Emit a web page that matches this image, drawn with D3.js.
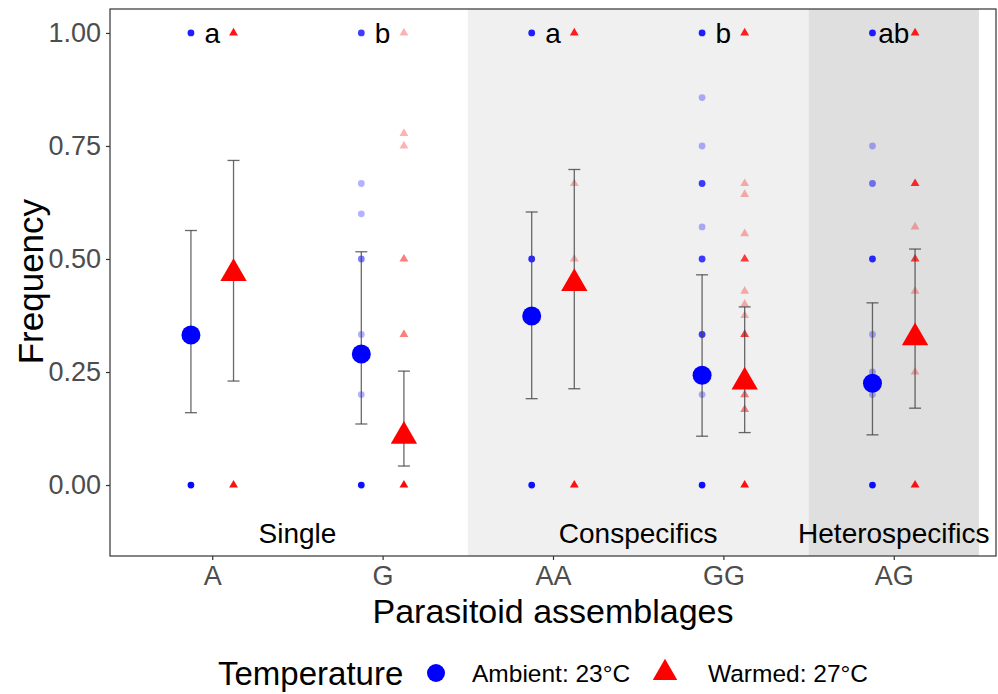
<!doctype html>
<html>
<head>
<style>
  body { margin: 0; background: #fff; }
  text { font-family: "Liberation Sans", Arial, sans-serif; }
</style>
<script src="https://d3js.org/d3.v7.min.js"></script>
</head>
<body>
<svg width="998" height="694"></svg>
<script>
// categories and group labels
var groups = ["A", "G", "AA", "GG", "AG"];
var letters = ["a", "b", "a", "b", "ab"];
var blocks = [["Single", 0.4, 2.5, 1.5, "#ffffff"],
              ["Conspecifics", 2.5, 4.5, 3.5, "#f0f0f0"],
              ["Heterospecifics", 4.5, 5.5, 5, "#dfdfdf"]];
var yTicks = [0, 0.25, 0.5, 0.75, 1];

// model estimates (mean + 95% CI)
var meanAmb = [0.332, 0.290, 0.374, 0.243, 0.225];
var loAmb   = [0.160, 0.135, 0.191, 0.108, 0.111];
var hiAmb   = [0.563, 0.516, 0.604, 0.465, 0.403];
var meanWar = [0.468, 0.108, 0.446, 0.228, 0.326];
var loWar   = [0.230, 0.042, 0.213, 0.116, 0.170];
var hiWar   = [0.718, 0.252, 0.698, 0.394, 0.522];

// raw observations: [group, value, number of replicates]
var obsAmb = [
  ["A", 1, 6], ["A", 0, 10],
  ["G", 1, 4], ["G", 0.667, 1], ["G", 0.6, 1], ["G", 0.5, 2], ["G", 0.333, 1], ["G", 0.2, 1], ["G", 0, 8],
  ["AA", 1, 6], ["AA", 0.5, 5], ["AA", 0, 8],
  ["GG", 1, 6], ["GG", 0.857, 1], ["GG", 0.75, 1], ["GG", 0.667, 4], ["GG", 0.571, 1], ["GG", 0.5, 4],
  ["GG", 0.333, 4], ["GG", 0.2, 1], ["GG", 0, 8],
  ["AG", 1, 6], ["AG", 0.75, 1], ["AG", 0.667, 2], ["AG", 0.5, 5], ["AG", 0.333, 1], ["AG", 0.25, 1],
  ["AG", 0.2, 1], ["AG", 0, 8]
];
var obsWar = [
  ["A", 1, 7], ["A", 0, 8],
  ["G", 1, 1], ["G", 0.778, 1], ["G", 0.75, 1], ["G", 0.5, 2], ["G", 0.333, 2], ["G", 0, 10],
  ["AA", 1, 6], ["AA", 0.667, 1], ["AA", 0.5, 1], ["AA", 0, 8],
  ["GG", 1, 6], ["GG", 0.667, 1], ["GG", 0.643, 1], ["GG", 0.556, 1], ["GG", 0.5, 4], ["GG", 0.429, 1],
  ["GG", 0.4, 1], ["GG", 0.375, 1], ["GG", 0.333, 4], ["GG", 0.2, 2], ["GG", 0.167, 2], ["GG", 0, 8],
  ["AG", 1, 6], ["AG", 0.667, 5], ["AG", 0.571, 1], ["AG", 0.5, 4], ["AG", 0.429, 1], ["AG", 0.25, 1], ["AG", 0, 8]
];

var svg = d3.select("svg");
var pL = 110, pR = 996, pT = 9, pB = 556;
var dodge = 0.125;

var x = d3.scaleLinear().domain([0.4, 5.6]).range([pL, pR]);
var y = d3.scaleLinear().domain([-0.157, 1.053]).range([pB, pT]);
var gx = function(g) { return groups.indexOf(g) + 1; };

// shaded blocks
svg.append("g").selectAll("rect")
  .data(blocks.filter(function(b) { return b[4] != "#ffffff"; }))
  .enter().append("rect")
  .attr("x", function(b) { return x(b[1]); })
  .attr("width", function(b) { return x(b[2]) - x(b[1]); })
  .attr("y", pT).attr("height", pB - pT)
  .attr("fill", function(b) { return b[4]; });

svg.append("g").selectAll("text")
  .data(blocks).enter().append("text")
  .attr("x", function(b) { return x(b[3]); })
  .attr("y", y(-0.106))
  .attr("dy", "0.35em")
  .attr("text-anchor", "middle")
  .attr("font-size", "28px")
  .text(function(b) { return b[0]; });

var tri = d3.symbol().type(d3.symbolTriangle);

// raw points
svg.append("g").selectAll("circle")
  .data(obsAmb).enter().append("circle")
  .attr("cx", function(d) { return x(gx(d[0]) - dodge); })
  .attr("cy", function(d) { return y(d[1]); })
  .attr("r", 3.4)
  .attr("fill", "blue")
  .attr("fill-opacity", function(d) { return 1 - Math.pow(0.7, d[2]); });

svg.append("g").selectAll("path")
  .data(obsWar).enter().append("path")
  .attr("d", tri.size(34))
  .attr("transform", function(d) { return "translate(" + x(gx(d[0]) + dodge) + "," + y(d[1]) + ")"; })
  .attr("fill", "red")
  .attr("fill-opacity", function(d) { return 1 - Math.pow(0.7, d[2]); });

// error bars
function errBars(lo, hi, off) {
  var g = svg.append("g").attr("stroke", "#444").attr("stroke-opacity", 0.8).attr("stroke-width", 1.3);
  groups.forEach(function(name, i) {
    var cx = x(i + 1 + off);
    g.append("line").attr("x1", cx).attr("x2", cx).attr("y1", y(lo[i])).attr("y2", y(hi[i]));
    g.append("line").attr("x1", cx - 6).attr("x2", cx + 6).attr("y1", y(lo[i])).attr("y2", y(lo[i]));
    g.append("line").attr("x1", cx - 6).attr("x2", cx + 6).attr("y1", y(hi[i])).attr("y2", y(hi[i]));
  });
}
errBars(loAmb, hiAmb, -dodge);
errBars(loWar, hiWar, dodge);

// means
svg.append("g").selectAll("circle")
  .data(meanAmb).enter().append("circle")
  .attr("cx", function(d, i) { return x(i + 1 - dodge); })
  .attr("cy", function(d) { return y(d); })
  .attr("r", 9.5)
  .attr("fill", "blue");

svg.append("g").selectAll("path")
  .data(meanWar).enter().append("path")
  .attr("d", d3.symbol().type(d3.symbolTriangle).size(300))
  .attr("transform", function(d, i) { return "translate(" + x(i + 1 + dodge) + "," + y(d) + ")"; })
  .attr("fill", "red");

// letters
svg.append("g").selectAll("text")
  .data(letters).enter().append("text")
  .attr("x", function(d, i) { return x(i + 1); })
  .attr("y", y(1))
  .attr("dy", "0.35em")
  .attr("text-anchor", "middle")
  .attr("font-size", "28px")
  .text(function(d) { return d; });

// panel border
svg.append("rect")
  .attr("x", pL).attr("y", pT)
  .attr("width", pR - pL).attr("height", pB - pT)
  .attr("fill", "none").attr("stroke", "#333").attr("stroke-width", 1.2);

// axes
var xAxis = svg.append("g")
  .attr("transform", "translate(0," + pB + ")")
  .call(d3.axisBottom(x).tickValues([1, 2, 3, 4, 5])
    .tickFormat(function(d) { return groups[d - 1]; }).tickSize(4).tickPadding(6));
var yAxis = svg.append("g")
  .attr("transform", "translate(" + pL + ",0)")
  .call(d3.axisLeft(y).tickValues(yTicks).tickFormat(d3.format(".2f")).tickSize(4).tickPadding(5));
[xAxis, yAxis].forEach(function(a) {
  a.select(".domain").remove();
  a.selectAll("line").attr("stroke", "#333").attr("stroke-width", 1.2);
  a.selectAll("text").attr("fill", "#4d4d4d").attr("font-size", "27px")
    .style("font-family", "'Liberation Sans', Arial, sans-serif");
});

svg.append("text")
  .attr("x", x(3)).attr("y", 623)
  .attr("text-anchor", "middle")
  .attr("font-size", "34px")
  .text("Parasitoid assemblages");

svg.append("text")
  .attr("transform", "translate(43," + y(0.45) + ") rotate(-90)")
  .attr("text-anchor", "middle")
  .attr("font-size", "35px")
  .text("Frequency");

// legend
var leg = svg.append("g");
leg.append("text").attr("x", 218).attr("y", 685).attr("font-size", "33px").text("Temperature");
leg.append("circle").attr("cx", 436).attr("cy", 673).attr("r", 9).attr("fill", "blue");
leg.append("text").attr("x", 472).attr("y", 682).attr("font-size", "24.5px").text("Ambient: 23°C");
leg.append("path").attr("d", d3.symbol().type(d3.symbolTriangle).size(260))
  .attr("transform", "translate(665,673)").attr("fill", "red");
leg.append("text").attr("x", 708).attr("y", 682).attr("font-size", "24.5px").text("Warmed: 27°C");
</script>
</body>
</html>
